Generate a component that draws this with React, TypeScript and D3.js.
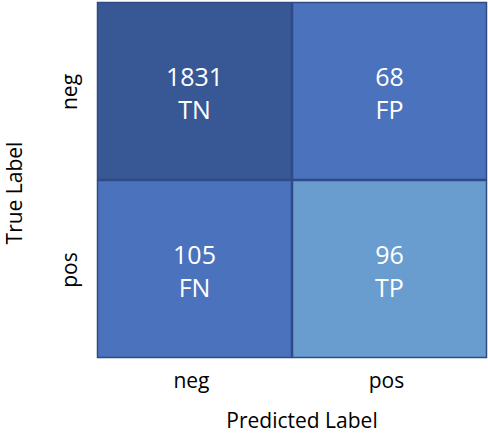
import * as d3 from "d3";
import { useEffect, useRef } from "react";

const labels = ["neg", "pos"];
// rows = true label, cols = predicted label
const counts = [
  [1831, 68],
  [105, 96],
];
const names = [
  ["TN", "FP"],
  ["FN", "TP"],
];
const fills = [
  ["#385795", "#4b72bd"],
  ["#4b72bd", "#699dd0"],
];

export default function App() {
  const ref = useRef<SVGSVGElement>(null);

  useEffect(() => {
    const svg = d3.select(ref.current);
    svg.selectAll("*").remove();

    const width = 488;
    const height = 434;
    const margin = { top: 2, right: 1, bottom: 76, left: 97 };
    const plotW = width - margin.left - margin.right;
    const plotH = height - margin.top - margin.bottom;
    const font = "'Open Sans', Calibri, sans-serif";

    svg.attr("width", width).attr("height", height);

    const g = svg
      .append("g")
      .attr("transform", `translate(${margin.left},${margin.top})`);

    const x = d3.scaleBand().domain(labels).range([0, plotW]);
    const y = d3.scaleBand().domain(labels).range([0, plotH]);

    const cells = labels.flatMap((r, i) =>
      labels.map((c, j) => ({
        r,
        c,
        v: counts[i][j],
        name: names[i][j],
        fill: fills[i][j],
      }))
    );

    // cells
    g.selectAll("rect")
      .data(cells)
      .enter()
      .append("rect")
      .attr("x", d => (x(d.c) || 0) + 0.5)
      .attr("y", d => (y(d.r) || 0) + 0.5)
      .attr("width", x.bandwidth() - 1)
      .attr("height", y.bandwidth() - 1)
      .attr("fill", d => d.fill)
      .attr("stroke", "#2f4b84")
      .attr("stroke-width", 1.5);

    // value + name
    const txt = g
      .selectAll(".cell-label")
      .data(cells)
      .enter()
      .append("text")
      .attr("class", "cell-label")
      .attr("text-anchor", "middle")
      .style("font-family", font)
      .style("font-size", "25px")
      .attr("fill", "#ffffff");

    txt
      .append("tspan")
      .attr("x", d => (x(d.c) || 0) + x.bandwidth() / 2)
      .attr("y", d => (y(d.r) || 0) + y.bandwidth() / 2 - 5)
      .text(d => d.v);

    txt
      .append("tspan")
      .attr("x", d => (x(d.c) || 0) + x.bandwidth() / 2)
      .attr("y", d => (y(d.r) || 0) + y.bandwidth() / 2 + 28)
      .text(d => d.name);

    // tick labels
    g.selectAll(".xtick")
      .data(labels)
      .enter()
      .append("text")
      .attr("class", "xtick")
      .attr("x", d => (x(d) || 0) + x.bandwidth() / 2 - 3)
      .attr("y", plotH + 30)
      .attr("text-anchor", "middle")
      .style("font-family", font)
      .style("font-size", "21px")
      .attr("fill", "#000")
      .text(d => d);

    g.selectAll(".ytick")
      .data(labels)
      .enter()
      .append("text")
      .attr("class", "ytick")
      .attr(
        "transform",
        d => `translate(-20,${(y(d) || 0) + y.bandwidth() / 2 + 1}) rotate(-90)`
      )
      .attr("text-anchor", "middle")
      .style("font-family", font)
      .style("font-size", "21px")
      .attr("fill", "#000")
      .text(d => d);

    // axis titles
    svg
      .append("text")
      .attr("x", margin.left + plotW / 2 + 10)
      .attr("y", height - 6)
      .attr("text-anchor", "middle")
      .style("font-family", font)
      .style("font-size", "21px")
      .attr("fill", "#000")
      .text("Predicted Label");

    svg
      .append("text")
      .attr("transform", `translate(22,${margin.top + plotH / 2 + 13}) rotate(-90)`)
      .attr("text-anchor", "middle")
      .style("font-family", font)
      .style("font-size", "21px")
      .attr("fill", "#000")
      .text("True Label");
  }, []);

  return (
    <div style={{ position: "absolute", left: 0, top: 0 }}>
      <svg ref={ref} style={{ display: "block" }} />
    </div>
  );
}
